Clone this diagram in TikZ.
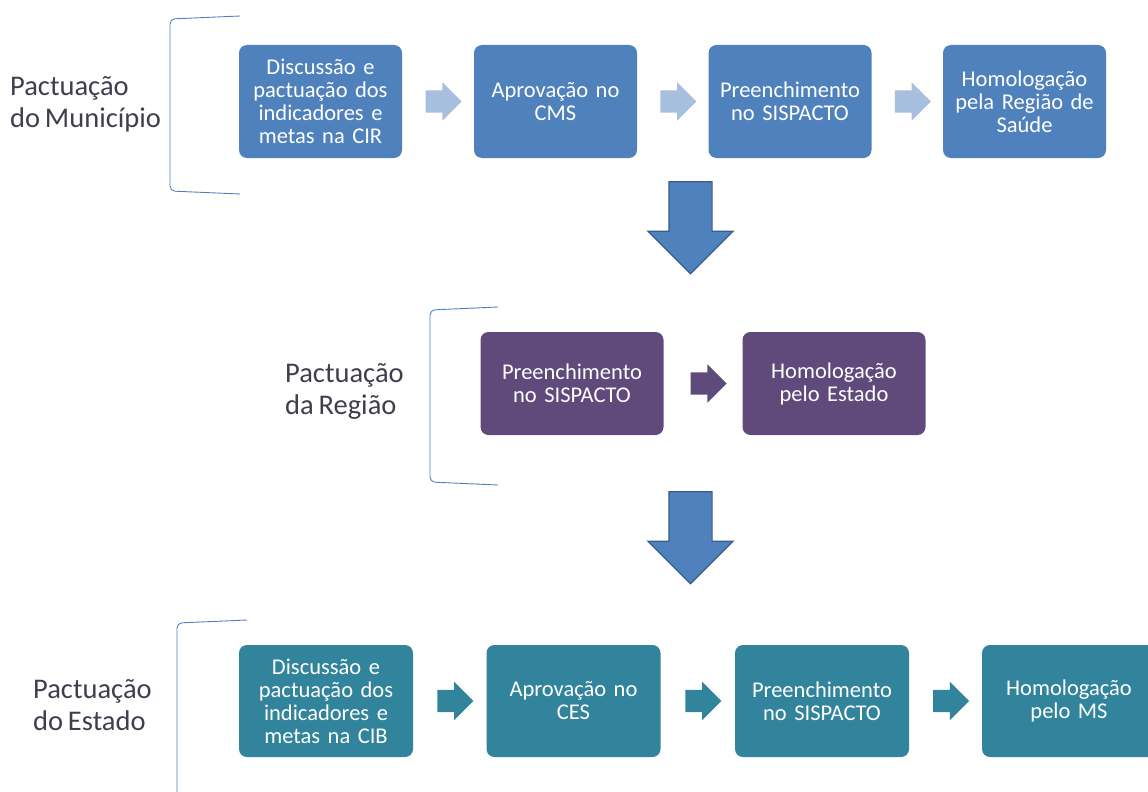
\documentclass[tikz,border=0pt]{standalone}
\usepackage{fontspec}
\setmainfont{Carlito}
\newfontfamily\boxfam{Carlito}[WordSpace=0.65]
\newfontfamily\lblfam{Carlito}[WordSpace=0.75]
\usepackage{xcolor}
\usetikzlibrary{shapes.arrows,calc}
\definecolor{munblue}{RGB}{79,129,189}
\definecolor{munlight}{RGB}{167,191,222}
\definecolor{regpurple}{RGB}{96,74,123}
\definecolor{estteal}{RGB}{49,132,155}
\definecolor{arrowedge}{RGB}{56,93,138}
\definecolor{labelgray}{RGB}{62,62,78}

\begin{document}
\begin{tikzpicture}[x=1pt, y=-1pt,
    box/.style={rounded corners=8pt, text=white, align=center, inner sep=0pt,
        font=\boxfam\fontsize{22.5}{23}\selectfont},
    mbox/.style={box, fill=munblue, minimum width=163pt, minimum height=113pt, text width=156pt},
    rbox/.style={box, fill=regpurple, minimum width=183pt, minimum height=103pt, text width=170pt},
    ebox/.style={box, fill=estteal, minimum width=174pt, minimum height=112pt, text width=164pt},
    sarrow/.style={single arrow, fill=#1, minimum height=36pt, inner xsep=0pt,
        inner ysep=11pt, single arrow head extend=8pt},
    bigarrow/.style={single arrow, fill=munblue, draw=arrowedge, line width=1.2pt,
        minimum height=92pt, inner xsep=0pt, inner ysep=21pt,
        single arrow head extend=21pt, rotate=-90},
    bracket/.style={munblue, line width=0.9pt, rounded corners=5pt},
    lbl/.style={anchor=west, align=left, text=labelgray, inner sep=0pt,
        font=\lblfam\fontsize{28.5}{32}\selectfont}]
    \useasboundingbox (0,0) rectangle (1148,792);

    % Pactuacao do Municipio
    \draw[bracket] (240,16) -- (170,19) -- (170,191) -- (240,194);
    \node[lbl] (lmun) at (10,104) {Pactuação\\do Município};
    \node[mbox] (m1) at (320.5,101.5) {Discussão e\\pactuação dos\\indicadores e\\metas na CIR};
    \node[mbox] (m2) at (555.5,101.5) {Aprovação no\\CMS};
    \node[mbox] (m3) at (790,101.5) {Preenchimento\\no SISPACTO};
    \node[mbox] (m4) at (1024.5,101.5) {Homologação\\pela Região de\\Saúde};
    \node[sarrow=munlight] (am1) at ($(m1.east)!0.5!(m2.west)$) {};
    \node[sarrow=munlight] (am2) at ($(m2.east)!0.5!(m3.west)$) {};
    \node[sarrow=munlight] (am3) at ($(m3.east)!0.5!(m4.west)$) {};

    \node[bigarrow] (down1) at (690.5,217) {};

    % Pactuacao da Regiao
    \draw[bracket] (498,307) -- (430,310) -- (430,482) -- (498,485);
    \node[lbl] (lreg) at (285,391) {Pactuação\\da Região};
    \node[rbox] (r1) at (572,383.5) {Preenchimento\\no SISPACTO};
    \node[rbox] (r2) at (834,383.5) {Homologação\\pelo Estado};
    \node[sarrow=regpurple] (ar1) at ($(r1.east)!0.5!(r2.west)$) {};

    \node[bigarrow] (down2) at (690.5,527) {};

    % Pactuacao do Estado
    \draw[bracket] (247,620) -- (177,623) -- (177,800) -- (247,803);
    \node[lbl] (lest) at (33,705) {Pactuação\\do Estado};
    \node[ebox] (e1) at (326,701) {Discussão e\\pactuação dos\\indicadores e\\metas na CIB};
    \node[ebox] (e2) at (573.5,701) {Aprovação no\\CES};
    \node[ebox] (e3) at (822,701) {Preenchimento\\no SISPACTO};
    \node[ebox] (e4) at (1069,701) {Homologação\\pelo MS};
    \node[sarrow=estteal] (ae1) at ($(e1.east)!0.5!(e2.west)$) {};
    \node[sarrow=estteal] (ae2) at ($(e2.east)!0.5!(e3.west)$) {};
    \node[sarrow=estteal] (ae3) at ($(e3.east)!0.5!(e4.west)$) {};
\end{tikzpicture}
\end{document}
